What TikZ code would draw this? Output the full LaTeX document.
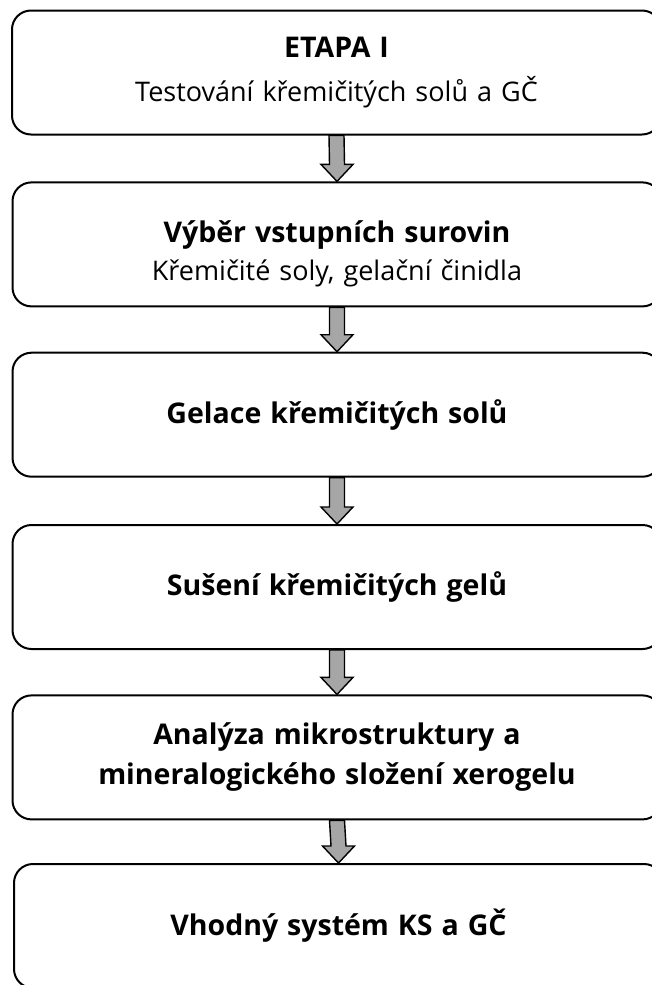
\documentclass[tikz,border=0pt]{standalone}
\usepackage{fontspec}
\setmainfont{Open Sans}
\usetikzlibrary{calc}

% bold heading text inside a stage box
\newcommand\stagehead[1]{{\fontsize{28.5}{40}\selectfont\bfseries #1}}

% block arrow from the bottom of one box to the top of the next
\newcommand\flowarrow[2]{%
  \draw[blockarrow]
    ($(#1.south)+(-7.5,0)$) -- ($(#2.north)+(-7.5,-17)$) --
    ($(#2.north)+(-16,-17)$) -- (#2.north) --
    ($(#2.north)+(16,-17)$) -- ($(#2.north)+(7.5,-17)$) --
    ($(#1.south)+(7.5,0)$) -- cycle;}

\begin{document}
\begin{tikzpicture}[x=1pt,y=-1pt,
  stagebox/.style={draw, line width=2pt, rounded corners=19pt,
    minimum width=649pt, minimum height=124pt, text width=620pt,
    align=center, inner sep=0pt,
    font=\fontsize{27}{40}\selectfont},
  blockarrow/.style={draw=black, line width=1.4pt, fill=black!35,
    line join=miter}]
  \useasboundingbox (0,0) rectangle (652,985);
  \clip (0,0) rectangle (652,985);

  \node[stagebox] (s1) at (336.5,72.5)
    {\stagehead{ETAPA I}\\[4pt]Testování křemičitých solů a GČ};
  \node[stagebox] (s2) at (337,244.4)
    {\rule{0pt}{40pt}\stagehead{Výběr vstupních surovin}\\[-2pt]Křemičité soly, gelační činidla};
  \node[stagebox] (s3) at (337,414.7)
    {\stagehead{Gelace křemičitých solů}};
  \node[stagebox] (s4) at (337,587)
    {\stagehead{Sušení křemičitých gelů}};
  \node[stagebox] (s5) at (337,757.4)
    {\stagehead{Analýza mikrostruktury a}\\\stagehead{mineralogického složení xerogelu}};
  \node[stagebox] (s6) at (338.5,926)
    {\stagehead{Vhodný systém KS a GČ}};

  \flowarrow{s1}{s2}
  \flowarrow{s2}{s3}
  \flowarrow{s3}{s4}
  \flowarrow{s4}{s5}
  \flowarrow{s5}{s6}
\end{tikzpicture}
\end{document}
